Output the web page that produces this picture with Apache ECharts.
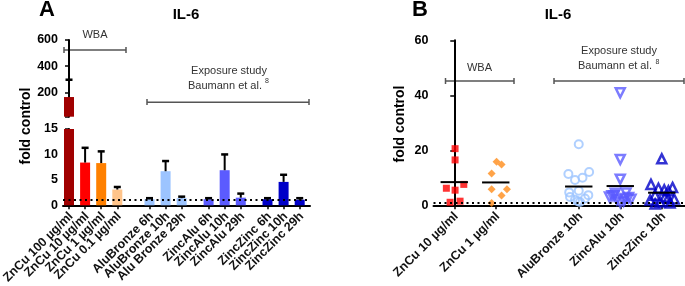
<!DOCTYPE html>
<html><head><meta charset="utf-8">
<script src="https://cdn.jsdelivr.net/npm/echarts@6/dist/echarts.min.js"></script>
<style>html,body{margin:0;padding:0;background:#fff}#c{width:685px;height:286px}</style>
</head><body><div id="c"></div>
<script>
// ---------- DATA ----------
const aCategories = ['ZnCu 100 µg/ml','ZnCu 10 µg/ml','ZnCu 1 µg/ml','ZnCu 0.1 µg/ml',
  'AluBronze 6h','AluBronze 10h','Alu Bronze 29h',
  'ZincAlu 6h','ZincAlu 10h','ZincAlu 29h',
  'ZincZinc 6h','ZincZinc 10h','ZincZinc 29h'];
const aMeans = [165, 8.4, 8.3, 3.1, 1.2, 6.7, 1.4, 1.2, 6.9, 1.5, 1.2, 4.6, 1.1];
const aErrUpper = [132, 2.9, 2.3, 0.5, 0.2, 2.0, 0.3, 0.2, 3.1, 0.8, 0.2, 1.4, 0.3];
const aUpperTicks = [200, 400, 600];
const aLowerTicks = [0, 5, 10, 15];

const bCategories = ['ZnCu 10 µg/ml','ZnCu 1 µg/ml','AluBronze 10h','ZincAlu 10h','ZincZinc 10h'];
const bZnCu10 = [20.6, 16.5, 6.2, 5.5, 7.6, 1.1, 1.5];
const bZnCu1 = [15.8, 14.8, 11.6, 5.8, 5.8, 3.6, 0.8];
const bAluBronze = [22.2, 11.4, 9.2, 10.0, 12.1, 4.7, 5.3, 3.7, 3.0, 2.0, 1.2, 2.5, 1.5];
const bZincAlu = [40.9, 16.7, 9.5, 4.4, 4.5, 3.5, 2.8, 2.0, 1.5, 3.0, 2.2, 1.0, 2.5, 3.5];
const bZincZinc = [16.9, 7.6, 6.2, 5.6, 6.5, 5.3, 3.7, 3.0, 2.3, 1.9, 1.2, 0.8, 0.5, 2.6];
const bTicks = [0, 20, 40, 60];
const controlLevel = 1;

// ---------- LAYOUT / STYLE ----------
const aPos = [0,1,2,3, 5,6,7, 8.67,9.67,10.67, 12.33,13.33,14.33];
const aColors = ['#a00000','#ff0000','#ff8000','#ffc48a',
  '#9cc4ff','#9cc4ff','#9cc4ff','#5b5bff','#5b5bff','#5b5bff','#0000c8','#0000c8','#0000c8'];
const bPos = [0,1,3,4,5];
const jZnCu10 = [0.02,0.02,-0.19,0.02,0.23,-0.1,0.14];
const jZnCu1 = [0.02,0.14,-0.1,-0.1,0.27,0.14,-0.1];
const jAlu = [0,-0.25,-0.09,0.09,0.25,-0.23,0,0.23,-0.21,-0.09,0.03,0.15,-0.02];
const jZA = [0,0,0,-0.12,0.14,-0.2,0.2,-0.08,0.08,-0.26,0.26,0,0.12,-0.15];
const jZZ = [0,-0.26,-0.08,0.06,0.26,0.16,-0.16,0.08,0.3,-0.28,-0.04,0.2,-0.16,0.15];

const FONT = 'Liberation Sans, Arial, sans-serif';
const breakAt = 15;
const bMax = 5.56;

const lowerBars = aMeans.map((m,i)=>({value:[aPos[i], Math.min(m, breakAt)], itemStyle:{color:aColors[i]}}));
const upperBars = aMeans.map((m,i)=>({value:[aPos[i], m > breakAt ? m : '-'], itemStyle:{color:aColors[i]}}));
const lowerErr = aMeans.map((m,i)=> m+aErrUpper[i] <= breakAt ? [aPos[i], m, m+aErrUpper[i]] : null).filter(Boolean);
const upperErr = aMeans.map((m,i)=> m > breakAt ? [aPos[i], m, m+aErrUpper[i]] : null).filter(Boolean);

function errRender(params, api){
  const x=api.value(0), m=api.value(1), t=api.value(2);
  const p0=api.coord([x,m]), p1=api.coord([x,t]);
  return {type:'group', children:[
    {type:'line', shape:{x1:p0[0],y1:p0[1],x2:p1[0],y2:p1[1]}, style:{stroke:'#000',lineWidth:2}},
    {type:'line', shape:{x1:p1[0]-3.5,y1:p1[1],x2:p1[0]+3.5,y2:p1[1]}, style:{stroke:'#000',lineWidth:2.5}}
  ]};
}
function meanRender(params, api){
  const x=api.value(0), m=api.value(1);
  const p0=api.coord([x-0.33,m]), p1=api.coord([x+0.33,m]);
  return {type:'line', shape:{x1:p0[0],y1:p0[1],x2:p1[0],y2:p1[1]}, style:{stroke:'#000',lineWidth:2}};
}
function labelRender(cats){
  return function(params, api){
    const x=api.value(0), i=api.value(1);
    const p=api.coord([x,0]);
    return {type:'text', x:p[0]+2, y:p[1]+9, rotation:Math.PI/4,
      style:{text:cats[i], font:'bold 12.5px '+FONT, fill:'#111', align:'right', verticalAlign:'middle'}};
  };
}
const mean = a => a.reduce((s,v)=>s+v,0)/a.length;
const bGroups = [bZnCu10,bZnCu1,bAluBronze,bZincAlu,bZincZinc];
const bJit = [jZnCu10,jZnCu1,jAlu,jZA,jZZ];
const bSym = [
  {symbol:'rect', size:7, itemStyle:{color:'#ff0000'}},
  {symbol:'diamond', size:8, itemStyle:{color:'#ff8c1a'}},
  {symbol:'circle', size:8, itemStyle:{color:'rgba(0,0,0,0)', borderColor:'#9cc4ff', borderWidth:2}},
  {symbol:'triangle', size:9, rotate:180, itemStyle:{color:'rgba(0,0,0,0)', borderColor:'#5b5bff', borderWidth:2.5}},
  {symbol:'triangle', size:9, rotate:0, itemStyle:{color:'rgba(0,0,0,0)', borderColor:'#0000c8', borderWidth:2.5}}
];

const axisLab = {fontFamily:FONT, fontWeight:'bold', fontSize:12.5, color:'#000'};
const axLine = {show:true, lineStyle:{color:'#000', width:2}};
const axTick = {show:true, length:4, lineStyle:{color:'#000', width:1.5}};

const chart = echarts.init(document.getElementById('c'), null, {renderer:'canvas'});

const option = {
  animation:false,
  grid:[
    {left:63, top:40, width:247, height:76.7},
    {left:63, top:129, width:247, height:76.3},
    {left:433.5, top:40.3, width:251.5, height:165}
  ],
  xAxis:[
    {gridIndex:0, type:'value', min:-0.373, max:14.97, show:false},
    {gridIndex:1, type:'value', min:-0.373, max:14.97, splitLine:{show:false},
      axisLine:axLine, axisTick:Object.assign({customValues:aPos}, axTick), axisLabel:{show:false}},
    {gridIndex:2, type:'value', min:-0.5, max:bMax, splitLine:{show:false},
      axisLine:axLine, axisTick:Object.assign({customValues:bPos}, axTick), axisLabel:{show:false}}
  ],
  yAxis:[
    {gridIndex:0, type:'value', min:breakAt, max:600, splitLine:{show:false},
      axisLine:axLine, axisTick:Object.assign({customValues:[breakAt].concat(aUpperTicks)}, axTick),
      axisLabel:Object.assign({customValues:aUpperTicks, margin:5}, axisLab)},
    {gridIndex:1, type:'value', min:0, max:breakAt, interval:5, splitLine:{show:false},
      axisLine:axLine, axisTick:Object.assign({customValues:aLowerTicks}, axTick),
      axisLabel:Object.assign({customValues:aLowerTicks, margin:5}, axisLab)},
    {gridIndex:2, type:'value', min:0, max:60, interval:20, splitLine:{show:false},
      axisLine:axLine, axisTick:Object.assign({customValues:bTicks}, axTick),
      axisLabel:Object.assign({customValues:bTicks, margin:5}, axisLab)}
  ],
  series:[
    {type:'line', xAxisIndex:1, yAxisIndex:1, data:[], z:1, silent:true,
      markLine:{symbol:'none', silent:true, label:{show:false},
        lineStyle:{color:'#000', type:[2,3.5], width:2},
        data:[[{coord:[-0.373,controlLevel]},{coord:[14.97,controlLevel]}]]}},
    {type:'bar', xAxisIndex:0, yAxisIndex:0, data:upperBars, barWidth:10, z:3},
    {type:'bar', xAxisIndex:1, yAxisIndex:1, data:lowerBars, barWidth:10, z:3},
    {type:'custom', xAxisIndex:0, yAxisIndex:0, data:upperErr, renderItem:errRender, z:4},
    {type:'custom', xAxisIndex:1, yAxisIndex:1, data:lowerErr, renderItem:errRender, z:4},
    {type:'custom', xAxisIndex:1, yAxisIndex:1, clip:false, silent:true, z:6,
      data:aPos.map((p,i)=>[p,i]), renderItem:labelRender(aCategories)},
    {type:'custom', xAxisIndex:2, yAxisIndex:2, clip:false, silent:true, z:6,
      data:bPos.map((p,i)=>[p,i]), renderItem:labelRender(bCategories)},
    {type:'line', xAxisIndex:2, yAxisIndex:2, data:[], z:1, silent:true,
      markLine:{symbol:'none', silent:true, label:{show:false},
        lineStyle:{color:'#000', type:[2,3.5], width:2},
        data:[[{coord:[-0.5,controlLevel]},{coord:[bMax,controlLevel]}]]}}
  ].concat(bGroups.map((g,gi)=>({
    type:'scatter', xAxisIndex:2, yAxisIndex:2, z:3,
    symbol:bSym[gi].symbol, symbolSize:bSym[gi].size, symbolRotate:bSym[gi].rotate||0,
    itemStyle:bSym[gi].itemStyle,
    data:g.map((v,i)=>[bPos[gi]+bJit[gi][i], v])
  }))).concat([
    {type:'custom', xAxisIndex:2, yAxisIndex:2, z:5, renderItem:meanRender,
      data:bGroups.map((g,gi)=>[bPos[gi], mean(g)])}
  ]),
  graphic:[
    {type:'text', left:39, top:-1, style:{text:'A', font:'bold 22px '+FONT, fill:'#000'}},
    {type:'text', left:412, top:-1, style:{text:'B', font:'bold 22px '+FONT, fill:'#000'}},
    {type:'text', x:186, y:15, style:{text:'IL-6', font:'bold 15px '+FONT, fill:'#000', align:'center', verticalAlign:'middle'}},
    {type:'text', x:558, y:15, style:{text:'IL-6', font:'bold 15px '+FONT, fill:'#000', align:'center', verticalAlign:'middle'}},
    {type:'text', x:26, y:126, rotation:Math.PI/2, style:{text:'fold control', font:'bold 14px '+FONT, fill:'#000', align:'center', verticalAlign:'middle'}},
    {type:'text', x:400, y:124, rotation:Math.PI/2, style:{text:'fold control', font:'bold 14px '+FONT, fill:'#000', align:'center', verticalAlign:'middle'}},
    // panel A brackets
    {type:'text', x:95, y:35, style:{text:'WBA', font:'11px '+FONT, fill:'#333', align:'center', verticalAlign:'middle'}},
    {type:'polyline', shape:{points:[[64,47],[64,53]]}, style:{stroke:'#555',lineWidth:1.5}},
    {type:'polyline', shape:{points:[[64,50],[126,50]]}, style:{stroke:'#555',lineWidth:1.5}},
    {type:'polyline', shape:{points:[[126,47],[126,53]]}, style:{stroke:'#555',lineWidth:1.5}},
    {type:'text', x:229, y:70.5, style:{text:'Exposure study', font:'11px '+FONT, fill:'#333', align:'center', verticalAlign:'middle'}},
    {type:'text', x:188, y:85.5, style:{text:'Baumann et al.', font:'11px '+FONT, fill:'#333', align:'left', verticalAlign:'middle'}},
    {type:'text', x:265, y:81, style:{text:'8', font:'7px '+FONT, fill:'#333', align:'left', verticalAlign:'middle'}},
    {type:'polyline', shape:{points:[[147,99],[147,105]]}, style:{stroke:'#555',lineWidth:1.5}},
    {type:'polyline', shape:{points:[[147,102.3],[309,102.3]]}, style:{stroke:'#555',lineWidth:1.5}},
    {type:'polyline', shape:{points:[[309,99],[309,105]]}, style:{stroke:'#555',lineWidth:1.5}},
    // panel B brackets
    {type:'text', x:479.5, y:68, style:{text:'WBA', font:'11px '+FONT, fill:'#333', align:'center', verticalAlign:'middle'}},
    {type:'polyline', shape:{points:[[445.5,78],[445.5,84]]}, style:{stroke:'#555',lineWidth:1.5}},
    {type:'polyline', shape:{points:[[445.5,81],[514,81]]}, style:{stroke:'#555',lineWidth:1.5}},
    {type:'polyline', shape:{points:[[514,78],[514,84]]}, style:{stroke:'#555',lineWidth:1.5}},
    {type:'text', x:619, y:51, style:{text:'Exposure study', font:'11px '+FONT, fill:'#333', align:'center', verticalAlign:'middle'}},
    {type:'text', x:578, y:66, style:{text:'Baumann et al.', font:'11px '+FONT, fill:'#333', align:'left', verticalAlign:'middle'}},
    {type:'text', x:655.5, y:62, style:{text:'8', font:'7px '+FONT, fill:'#333', align:'left', verticalAlign:'middle'}},
    {type:'polyline', shape:{points:[[554,78],[554,84]]}, style:{stroke:'#555',lineWidth:1.5}},
    {type:'polyline', shape:{points:[[554,81],[684,81]]}, style:{stroke:'#555',lineWidth:1.5}},
    {type:'polyline', shape:{points:[[684,78],[684,84]]}, style:{stroke:'#555',lineWidth:1.5}}
  ]
};
chart.setOption(option);
</script></body></html>
